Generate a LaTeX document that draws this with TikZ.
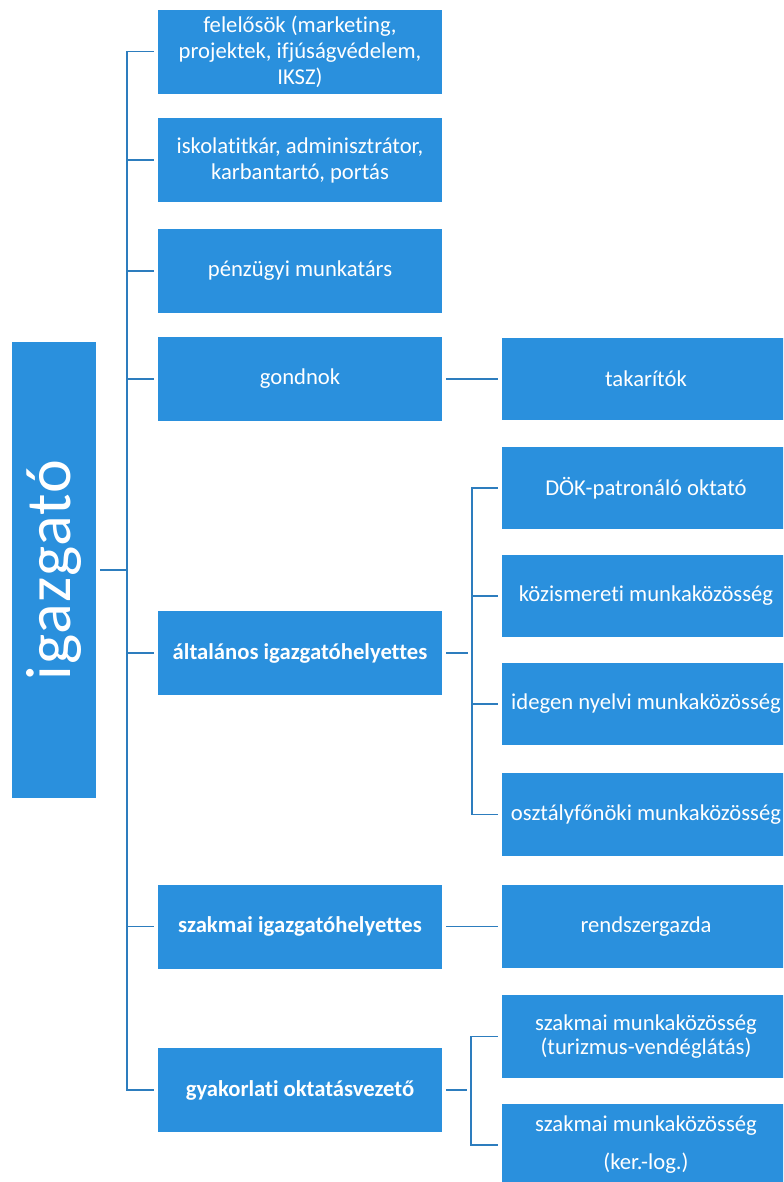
\documentclass[tikz,border=0pt]{standalone}
\usepackage{fontspec}
\setmainfont{Carlito}[Ligatures=NoCommon]
\usetikzlibrary{calc}
\definecolor{boxblue}{HTML}{2A90DD}
\definecolor{lineblue}{HTML}{2D7DBE}

\begin{document}
\begin{tikzpicture}[x=0.75pt,y=-0.75pt,
    unit/.style={fill=boxblue, text=white, align=center, inner sep=0pt,
      minimum width=213pt, minimum height=63pt, font=\fontsize{17}{19.5}\selectfont},
    sub/.style={unit, minimum width=216pt, minimum height=62pt},
    lead/.style={font=\fontsize{17}{19.5}\selectfont\bfseries},
    link/.style={draw=lineblue, line width=1.4pt, shorten >=3pt}]
    \useasboundingbox (0,0) rectangle (783,1182);
    \clip (0,0) rectangle (783,1182);

    % director
    \node[unit, minimum width=63pt, minimum height=342pt] (dir) at (54,570)
      {\rotatebox{90}{\fontsize{48}{48}\selectfont\addfontfeatures{LetterSpace=2}igazgató}};

    % first level
    \node[unit] (fel) at (300,51.5) {felelősök (marketing,\\projektek, ifjúságvédelem,\\IKSZ)};
    \node[unit] (isk) at (300,160) {iskolatitkár, adminisztrátor,\\karbantartó, portás};
    \node[unit] (penz) at (300,271) {pénzügyi munkatárs};
    \node[unit] (gond) at (300,379) {gondnok};
    \node[unit, lead] (alt) at (300,653) {általános igazgatóhelyettes};
    \node[unit, lead] (szak) at (300,926.5) {szakmai igazgatóhelyettes};
    \node[unit, lead] (gyak) at (300,1090) {gyakorlati oktatásvezető};

    % second level
    \node[sub] (tak) at (646,379) {takarítók};
    \node[sub] (dok) at (646,488) {DÖK-patronáló oktató};
    \node[sub] (koz) at (646,596) {közismereti munkaközösség};
    \node[sub] (ide) at (646,704) {idegen nyelvi munkaközösség};
    \node[sub] (oszt) at (646,814.5) {osztályfőnöki munkaközösség};
    \node[sub] (rend) at (646,926.5) {rendszergazda};
    \node[sub, font=\fontsize{17}{17.5}\selectfont] (tur) at (646,1036.5)
      {szakmai munkaközösség\\(turizmus-vendéglátás)};
    \node[sub, font=\fontsize{17}{28.5}\selectfont] (ker) at (646,1145)
      {szakmai munkaközösség\\(ker.-log.)};

    % connectors
    \coordinate (trunk) at (127,0);
    \coordinate (subA) at (472,0);
    \coordinate (subB) at (471,0);

    \draw[link] (dir.east -| trunk) -- (dir.east);
    \draw[link, shorten <=3pt] (fel.west) -- (fel.west -| trunk)
      -- (gyak.west -| trunk) -- (gyak.west);
    \foreach \c in {isk,penz,gond,alt,szak}
      \draw[link] (\c.west -| trunk) -- (\c.west);

    \draw[link, shorten <=3pt] (gond.east) -- (tak.west);
    \draw[link, shorten <=3pt] (szak.east) -- (rend.west);

    \draw[link, shorten <=3pt] (alt.east) -- (alt.east -| subA);
    \draw[link, shorten <=3pt] (dok.west) -- (dok.west -| subA)
      -- (oszt.west -| subA) -- (oszt.west);
    \foreach \c in {koz,ide}
      \draw[link] (\c.west -| subA) -- (\c.west);

    \draw[link, shorten <=3pt] (gyak.east) -- (gyak.east -| subB);
    \draw[link, shorten <=3pt] (tur.west) -- (tur.west -| subB)
      -- (ker.west -| subB) -- (ker.west);
\end{tikzpicture}
\end{document}
